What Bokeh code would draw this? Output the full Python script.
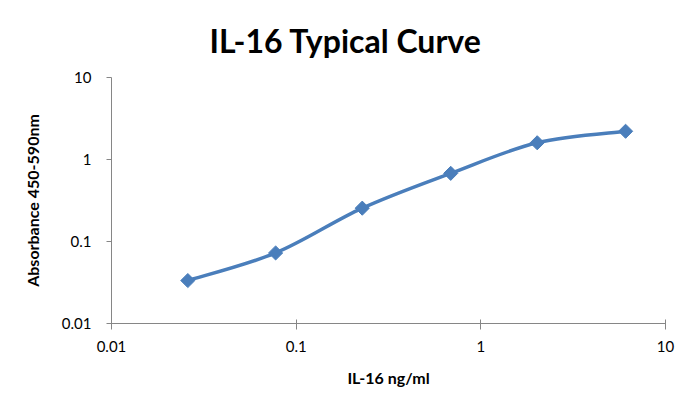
import math

from bokeh.core.properties import value
from bokeh.embed import file_html
from bokeh.models import ColumnDataSource, CustomJSTickFormatter, FixedTicker, Range1d
from bokeh.plotting import figure
from bokeh.resources import INLINE

# values
concentration = [0.0259, 0.0774, 0.228, 0.687, 2.02, 6.08]
absorbance = [0.0334, 0.0725, 0.255, 0.678, 1.60, 2.21]
tick_values = [0.01, 0.1, 1, 10]

LINE_BLUE = "#4A7EBB"
AXIS_GREY = "#868686"
FONT = "Lato"


def smooth_segments(xs, ys, tension=1 / 6):
    """Excel-like smoothed line: cubic bezier segments built in log space."""
    lx = [math.log10(v) for v in xs]
    ly = [math.log10(v) for v in ys]
    n = len(lx)
    seg = {k: [] for k in ("x0", "y0", "x1", "y1", "cx0", "cy0", "cx1", "cy1")}
    for i in range(n - 1):
        a = max(i - 1, 0)
        d = min(i + 2, n - 1)
        c0x = lx[i] + (lx[i + 1] - lx[a]) * tension
        c0y = ly[i] + (ly[i + 1] - ly[a]) * tension
        c1x = lx[i + 1] - (lx[d] - lx[i]) * tension
        c1y = ly[i + 1] - (ly[d] - ly[i]) * tension
        seg["x0"].append(xs[i])
        seg["y0"].append(ys[i])
        seg["x1"].append(xs[i + 1])
        seg["y1"].append(ys[i + 1])
        seg["cx0"].append(10 ** c0x)
        seg["cy0"].append(10 ** c0y)
        seg["cx1"].append(10 ** c1x)
        seg["cy1"].append(10 ** c1y)
    return seg


p = figure(
    width=676,
    height=394,
    x_axis_type="log",
    y_axis_type="log",
    x_range=Range1d(0.01, 10),
    y_range=Range1d(0.01, 10),
    output_backend="svg",
    toolbar_location=None,
    min_border_left=111,
    min_border_right=11,
    min_border_top=76,
    min_border_bottom=71,
)
p.outline_line_color = None
p.grid.visible = False

p.title.text = "IL-16 Typical Curve"
p.title.text_font = FONT
p.title.text_font_style = "bold"
p.title.text_font_size = "32px"
p.title.text_color = "black"
p.title.align = "left"
p.title.offset = 98
p.title.standoff = 36

fmt = CustomJSTickFormatter(code="return tick.toString();")
for ax in (p.xaxis[0], p.yaxis[0]):
    ax.ticker = FixedTicker(ticks=tick_values, minor_ticks=[])
    ax.formatter = fmt
    ax.axis_line_color = AXIS_GREY
    ax.major_tick_line_color = AXIS_GREY
    ax.minor_tick_line_color = None
    ax.major_label_text_font = FONT
    ax.major_label_text_font_size = "15px"
    ax.major_label_text_color = "black"
    ax.axis_label_text_font = FONT
    ax.axis_label_text_font_style = "bold"
    ax.axis_label_text_font_size = "16px"
    ax.axis_label_text_color = "black"

p.xaxis.axis_label = "IL-16 ng/ml"
p.xaxis.major_tick_in = 4
p.xaxis.major_tick_out = 6
p.xaxis.major_label_standoff = 11
p.xaxis.axis_label_standoff = 13

p.yaxis.axis_label = "Absorbance 450-590nm"
p.yaxis.major_tick_in = 0
p.yaxis.major_tick_out = 5
p.yaxis.major_label_standoff = 15
p.yaxis.axis_label_standoff = 17

p.bezier(source=ColumnDataSource(smooth_segments(concentration, absorbance)),
         x0="x0", y0="y0", x1="x1", y1="y1",
         cx0="cx0", cy0="cy0", cx1="cx1", cy1="cy1",
         line_color=LINE_BLUE, line_width=3.5)

points = ColumnDataSource(dict(x=concentration, y=absorbance))
p.scatter("x", "y", source=points, marker="square", size=10, angle=math.pi / 4,
          fill_color=LINE_BLUE, line_color=LINE_BLUE)

open("out.html", "w").write(file_html(p, INLINE))
